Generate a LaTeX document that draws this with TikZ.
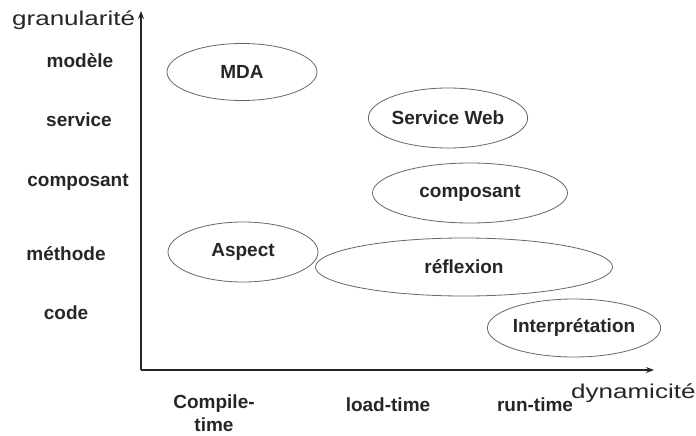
\documentclass[tikz,border=0pt]{standalone}
\usepackage{fontspec}
\setmainfont{Liberation Sans}
\newfontfamily\axisfont[FakeStretch=1.3]{Liberation Sans}
\usetikzlibrary{shapes.geometric,arrows.meta}
\begin{document}
\begin{tikzpicture}[x=1pt,y=-1pt,
  lbl/.style={font=\fontsize{19}{21}\selectfont\bfseries, inner sep=0pt, text=black!85},
  axlbl/.style={font=\axisfont\fontsize{20}{22}\selectfont, inner sep=0pt, text=black!85},
  oval/.style={ellipse, draw=black!60, line width=0.8pt, inner sep=0pt,
               font=\fontsize{19}{21}\selectfont\bfseries, text=black!85},
  axis/.style={line width=1.4pt, draw=black!85, -{Stealth[length=8pt,width=6pt]}}]
\useasboundingbox (0,0) rectangle (696,436);
% axes
\coordinate (O) at (141,370);
\coordinate (ytip) at (141,11);
\coordinate (xtip) at (654,370);
\draw[axis] (O) -- (ytip);
\draw[axis] (O) -- (xtip);
\node[axlbl, anchor=base west] (gran) at (12,26) {granularité};
\node[axlbl, anchor=base west] (dyn) at (571,398) {dynamicité};
% y labels
\node[lbl] (ymod) at (80,61) {modèle};
\node[lbl] (yser) at (79,120) {service};
\node[lbl] (ycom) at (78,182) {composant};
\node[lbl] (ymet) at (66,254) {méthode};
\node[lbl] (ycod) at (66,313) {code};
% x labels
\node[lbl, align=center, font=\fontsize{19}{23}\selectfont\bfseries] (xcomp) at (214,413) {Compile-\\time};
\node[lbl] (xload) at (388,405) {load-time};
\node[lbl] (xrun) at (535,405) {run-time};
% ellipses
\node[oval, minimum width=150pt, minimum height=57pt] (mda) at (242,72) {MDA};
\node[oval, minimum width=150pt, minimum height=60pt] (sweb) at (448,118) {Service Web};
\node[oval, minimum width=195pt, minimum height=60pt] (comp) at (470,193) {composant};
\node[oval, minimum width=150pt, minimum height=60pt] (asp) at (243,252) {Aspect};
\node[oval, minimum width=297pt, minimum height=58pt] (refl) at (464,267) {réflexion};
\node[oval, minimum width=158pt, minimum height=58pt] (interp) at (574,328) {Interprétation};
\end{tikzpicture}
\end{document}
